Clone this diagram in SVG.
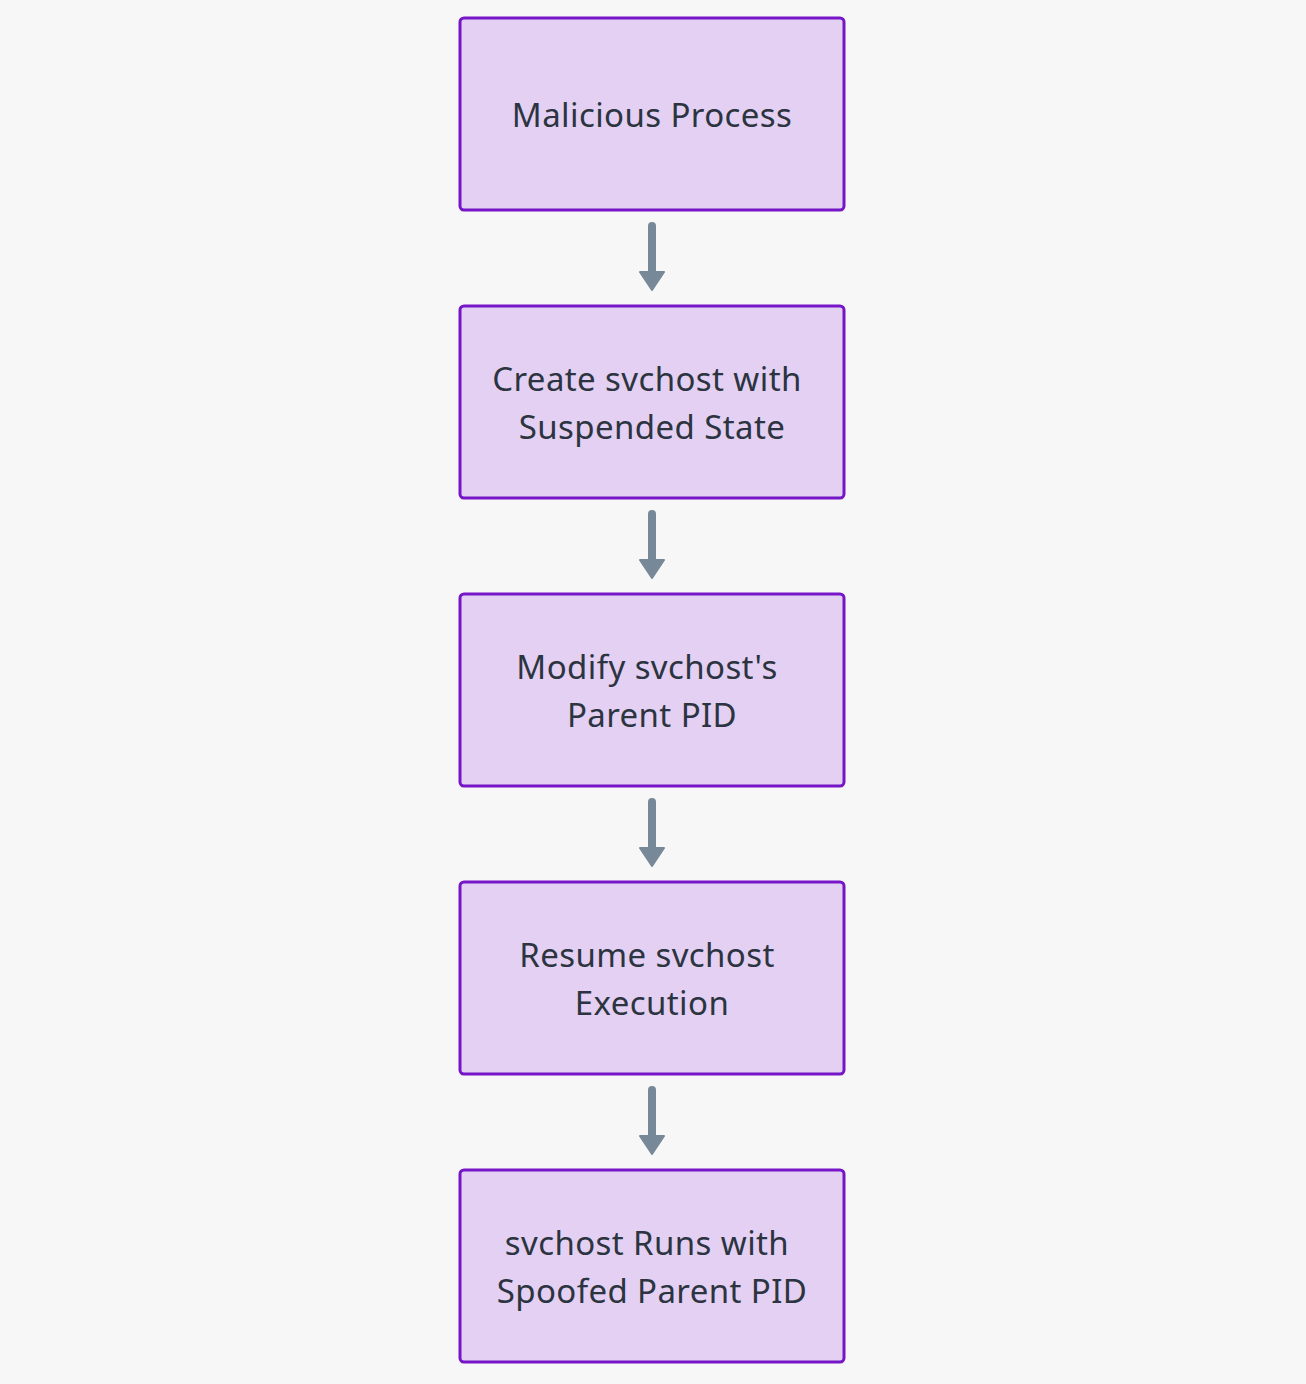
<svg xmlns="http://www.w3.org/2000/svg" width="1306" height="1384" viewBox="0 0 1306 1384">
<defs>
<style>
.node rect{fill:#e3d0f2;stroke:#7616c8;stroke-width:3}
.node text{font-family:"Noto Sans","DejaVu Sans",sans-serif;font-size:33px;letter-spacing:0.4px;fill:#2b3440;text-anchor:middle}
.edge line{stroke:#778899;stroke-width:8;stroke-linecap:round}
.edge path{fill:#778899;stroke:#778899;stroke-width:2;stroke-linejoin:round}
</style>
</defs>
<rect x="0" y="0" width="1306" height="1384" fill="#f7f7f7"/>
<g id="connectors" class="edge">
<line x1="652" y1="226" x2="652" y2="272"/><path d="M640 272 L664 272 L652 290 Z"/>
<line x1="652" y1="514" x2="652" y2="560"/><path d="M640 560 L664 560 L652 578 Z"/>
<line x1="652" y1="802" x2="652" y2="848"/><path d="M640 848 L664 848 L652 866 Z"/>
<line x1="652" y1="1090" x2="652" y2="1136"/><path d="M640 1136 L664 1136 L652 1154 Z"/>
</g>
<g id="n1" class="node"><rect x="460" y="18" width="384" height="192" rx="4"/><text x="652" y="127">Malicious Process</text></g>
<g id="n2" class="node"><rect x="460" y="306" width="384" height="192" rx="4"/><text x="647" y="391">Create svchost with</text><text x="652" y="439">Suspended State</text></g>
<g id="n3" class="node"><rect x="460" y="594" width="384" height="192" rx="4"/><text x="647" y="679">Modify svchost's</text><text x="652" y="727">Parent PID</text></g>
<g id="n4" class="node"><rect x="460" y="882" width="384" height="192" rx="4"/><text x="647" y="967">Resume svchost</text><text x="652" y="1015">Execution</text></g>
<g id="n5" class="node"><rect x="460" y="1170" width="384" height="192" rx="4"/><text x="647" y="1255">svchost Runs with</text><text x="652" y="1303">Spoofed Parent PID</text></g>
</svg>
